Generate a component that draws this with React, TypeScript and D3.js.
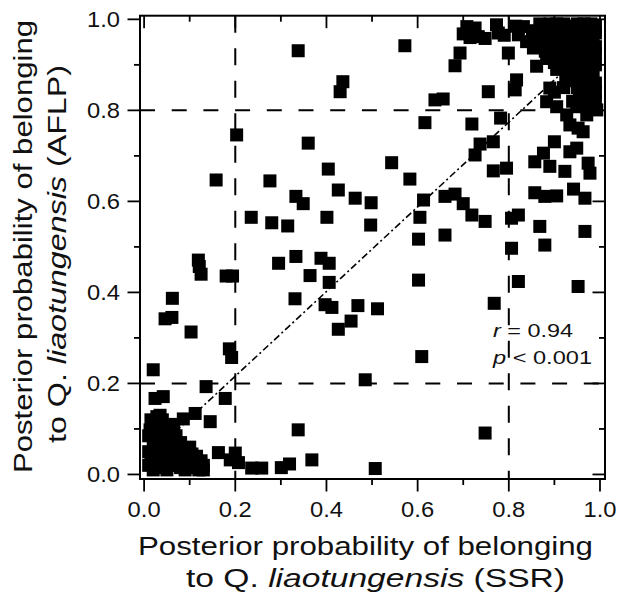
import * as d3 from "d3";
import { useEffect, useRef } from "react";

// posterior probabilities, [SSR, AFLP]
const lowCluster: [number, number][] = [
  [0.01, 0.02], [0.02, 0.01], [0.03, 0.03], [0.01, 0.05], [0.02, 0.07], [0.03, 0.1],
  [0.04, 0.06], [0.05, 0.03], [0.05, 0.01], [0.06, 0.05], [0.07, 0.02], [0.08, 0.04],
  [0.09, 0.01], [0.1, 0.03], [0.11, 0.02], [0.12, 0.01], [0.13, 0.02], [0.04, 0.12],
  [0.02, 0.11], [0.03, 0.04], [0.06, 0.08], [0.07, 0.06], [0.08, 0.07], [0.015, 0.035],
  [0.025, 0.055], [0.045, 0.09], [0.035, 0.015], [0.055, 0.065], [0.075, 0.045],
  [0.09, 0.05], [0.1, 0.06], [0.01, 0.085], [0.04, 0.02], [0.06, 0.02], [0.085, 0.02],
  [0.115, 0.04], [0.065, 0.11], [0.02, 0.04], [0.04, 0.04], [0.05, 0.05], [0.06, 0.035],
  [0.07, 0.04], [0.08, 0.015], [0.1, 0.015], [0.11, 0.035], [0.125, 0.03], [0.03, 0.08],
  [0.05, 0.1], [0.015, 0.12], [0.035, 0.13], [0.045, 0.075], [0.025, 0.09], [0.07, 0.085],
  [0.09, 0.03], [0.02, 0.025], [0.105, 0.045], [0.13, 0.01],
];

const leftPoints: [number, number][] = [
  [0.338, 0.931], [0.436, 0.863], [0.43, 0.841], [0.203, 0.746], [0.36, 0.728],
  [0.158, 0.647], [0.276, 0.645], [0.404, 0.671], [0.426, 0.625], [0.333, 0.611],
  [0.349, 0.595], [0.463, 0.607], [0.498, 0.597], [0.235, 0.565], [0.28, 0.553],
  [0.315, 0.546], [0.401, 0.565], [0.497, 0.548],
  [0.119, 0.471], [0.121, 0.457], [0.125, 0.44], [0.18, 0.436], [0.194, 0.436],
  [0.295, 0.464], [0.333, 0.479], [0.388, 0.475], [0.406, 0.464], [0.364, 0.437],
  [0.406, 0.422], [0.062, 0.387], [0.331, 0.386], [0.397, 0.373], [0.412, 0.367],
  [0.469, 0.371], [0.046, 0.342], [0.061, 0.345], [0.103, 0.313], [0.426, 0.319],
  [0.454, 0.337], [0.187, 0.276], [0.192, 0.257], [0.02, 0.23], [0.485, 0.208],
  [0.136, 0.193], [0.024, 0.167], [0.042, 0.171], [0.178, 0.167], [0.112, 0.134],
  [0.086, 0.122], [0.145, 0.116], [0.028, 0.127], [0.338, 0.098], [0.013, 0.098],
  [0.057, 0.094], [0.064, 0.058], [0.163, 0.048], [0.2, 0.047], [0.189, 0.032],
  [0.207, 0.026], [0.236, 0.014], [0.258, 0.014], [0.301, 0.015], [0.319, 0.023],
  [0.368, 0.032], [0.507, 0.013],
];

const rightPoints: [number, number][] = [
  [0.572, 0.942], [0.693, 0.926], [0.682, 0.898], [0.638, 0.823], [0.656, 0.825],
  [0.755, 0.841], [0.817, 0.867], [0.814, 0.845], [0.799, 0.926], [0.616, 0.773],
  [0.719, 0.77], [0.782, 0.783], [0.766, 0.731], [0.737, 0.726], [0.726, 0.702],
  [0.543, 0.685], [0.583, 0.649], [0.766, 0.667], [0.795, 0.673], [0.613, 0.603],
  [0.66, 0.611], [0.682, 0.616], [0.7, 0.595], [0.719, 0.57], [0.748, 0.556],
  [0.605, 0.565], [0.602, 0.517], [0.66, 0.526], [0.806, 0.563], [0.821, 0.57],
  [0.806, 0.497], [0.868, 0.545], [0.879, 0.504], [0.967, 0.534], [0.857, 0.619],
  [0.879, 0.611], [0.905, 0.612], [0.942, 0.627], [0.967, 0.607], [0.857, 0.687],
  [0.89, 0.677], [0.876, 0.706], [0.9, 0.731], [0.923, 0.666], [0.934, 0.709],
  [0.949, 0.717], [0.974, 0.684], [0.978, 0.662],
  [0.602, 0.427], [0.821, 0.424], [0.952, 0.413], [0.512, 0.364], [0.768, 0.376],
  [0.609, 0.259], [0.748, 0.091],
];

const highCluster: [number, number][] = [
  [0.89, 0.849], [0.883, 0.819], [0.905, 0.808], [0.927, 0.79], [0.934, 0.768],
  [0.952, 0.761], [0.971, 0.79], [0.978, 0.808], [0.949, 0.808], [0.982, 0.849],
  [0.934, 0.877], [0.942, 0.899], [0.861, 0.897], [0.883, 0.914], [0.905, 0.89],
  [0.963, 0.753], [0.993, 0.801],
  [0.708, 0.984], [0.726, 0.981], [0.7, 0.968], [0.733, 0.962], [0.748, 0.958],
  [0.773, 0.988], [0.777, 0.97], [0.821, 0.966], [0.832, 0.984], [0.839, 0.951],
  [0.854, 0.937], [0.852, 0.975], [0.868, 0.99], [0.872, 0.962],
  [0.89, 0.99], [0.92, 0.99], [0.95, 0.99], [0.98, 0.99], [0.99, 0.97], [0.9, 0.97],
  [0.93, 0.97], [0.96, 0.975], [0.88, 0.95], [0.91, 0.95], [0.94, 0.95], [0.97, 0.95],
  [0.99, 0.94], [0.89, 0.93], [0.92, 0.925], [0.95, 0.93], [0.98, 0.92], [0.9, 0.905],
  [0.93, 0.9], [0.96, 0.905], [0.99, 0.9], [0.96, 0.88], [0.97, 0.875], [0.99, 0.86],
  [0.95, 0.85], [0.97, 0.83], [0.99, 0.82], [0.94, 0.82], [0.965, 0.855],
  [0.905, 0.99], [0.935, 0.985], [0.965, 0.99], [0.99, 0.985], [0.915, 0.965],
  [0.945, 0.965], [0.975, 0.965], [0.895, 0.955], [0.925, 0.945], [0.955, 0.95],
  [0.985, 0.955], [0.905, 0.935], [0.935, 0.93], [0.965, 0.925], [0.99, 0.925],
  [0.915, 0.91], [0.945, 0.91], [0.975, 0.905], [0.95, 0.885], [0.985, 0.885],
  [0.975, 0.86], [0.955, 0.835], [0.985, 0.835], [0.96, 0.815], [0.99, 0.84],
  [0.875, 0.975], [0.86, 0.955], [0.88, 0.93], [0.815, 0.985], [0.79, 0.965],
  [0.715, 0.96], [0.925, 0.87], [0.945, 0.865], [0.92, 0.85], [0.9, 0.84],
];

const majorTicks = [0, 0.2, 0.4, 0.6, 0.8, 1.0];
const minorTicks = [0.1, 0.3, 0.5, 0.7, 0.9];
const tickLabels = ["0.0", "0.2", "0.4", "0.6", "0.8", "1.0"];
const guideLines = [0.2, 0.8];

// regression line
const fitSlope = 0.93;
const fitIntercept = 0.03;
const fitRange = [0.02, 0.93];

const FONT = "Arial, 'Liberation Sans', sans-serif";

export default function App() {
  const ref = useRef<SVGSVGElement>(null);

  useEffect(() => {
    const svg = d3.select(ref.current);
    svg.selectAll("*").remove();

    const left = 140, right = 605, top = 15.7, bottom = 479;
    const x = d3.scaleLinear().domain([-0.009, 1.011]).range([left, right]);
    const y = d3.scaleLinear().domain([-0.01, 1.008]).range([bottom, top]);

    // guide dashed lines
    const guides = svg.append("g").attr("stroke", "#000").attr("stroke-width", 2)
      .attr("fill", "none").attr("stroke-dasharray", "15,16.7");
    guideLines.forEach((v) => {
      guides.append("line").attr("x1", left).attr("x2", right).attr("y1", y(v)).attr("y2", y(v));
      guides.append("line").attr("x1", x(v)).attr("x2", x(v)).attr("y1", top).attr("y2", bottom)
        .attr("stroke-dasharray", "17,15.5");
    });

    // fit line
    svg.append("path")
      .attr("d", d3.line<number>().x((d) => x(d)).y((d) => y(fitSlope * d + fitIntercept))(fitRange))
      .attr("stroke", "#000").attr("stroke-width", 1.6).attr("fill", "none")
      .attr("stroke-dasharray", "7,3,2,3");

    // squares
    const size = 13;
    const all = [...lowCluster, ...leftPoints, ...rightPoints, ...highCluster];
    svg.append("g").selectAll("rect").data(all).join("rect")
      .attr("x", (d) => x(d[0]) - size / 2)
      .attr("y", (d) => y(d[1]) - size / 2)
      .attr("width", size).attr("height", size)
      .attr("fill", "#000");

    // frame
    svg.append("rect").attr("x", left).attr("y", top)
      .attr("width", right - left).attr("height", bottom - top)
      .attr("fill", "none").attr("stroke", "#000").attr("stroke-width", 2);

    // ticks: outward bottom/left, inward top/right
    const ticks = svg.append("g").attr("stroke", "#000").attr("stroke-width", 1.8);
    const drawTicks = (vals: number[], len: number) => {
      vals.forEach((v) => {
        ticks.append("line").attr("x1", x(v)).attr("x2", x(v)).attr("y1", bottom).attr("y2", bottom + len);
        ticks.append("line").attr("x1", x(v)).attr("x2", x(v)).attr("y1", top).attr("y2", top + len);
        ticks.append("line").attr("y1", y(v)).attr("y2", y(v)).attr("x1", left).attr("x2", left - len);
        ticks.append("line").attr("y1", y(v)).attr("y2", y(v)).attr("x1", right).attr("x2", right - len);
      });
    };
    drawTicks(majorTicks, 12.5);
    drawTicks(minorTicks, 6);

    const labels = svg.append("g").attr("font-family", FONT).attr("font-size", 22).attr("fill", "#111");
    majorTicks.forEach((v, i) => {
      labels.append("text").attr("x", x(v)).attr("y", 516.5).attr("text-anchor", "middle")
        .attr("textLength", 33).attr("lengthAdjust", "spacingAndGlyphs").text(tickLabels[i]);
      labels.append("text").attr("x", 120).attr("y", y(v) + 7.8).attr("text-anchor", "end")
        .attr("textLength", 33).attr("lengthAdjust", "spacingAndGlyphs").text(tickLabels[i]);
    });

    // axis titles
    const xt = svg.append("g").attr("font-family", FONT).attr("font-size", 25).attr("fill", "#111")
      .attr("transform", "translate(138,555)");
    xt.append("text").attr("textLength", 455).attr("lengthAdjust", "spacingAndGlyphs")
      .text("Posterior probability of belonging");
    const xt2 = xt.append("text").attr("x", 48).attr("y", 32).attr("textLength", 379).attr("lengthAdjust", "spacingAndGlyphs");
    xt2.append("tspan").text("to Q. ");
    xt2.append("tspan").attr("font-style", "italic").text("liaotungensis");
    xt2.append("tspan").text(" (SSR)");

    const yt = svg.append("g").attr("font-family", FONT).attr("font-size", 25).attr("fill", "#111")
      .attr("transform", "translate(32,473) rotate(-90)");
    yt.append("text").attr("textLength", 453).attr("lengthAdjust", "spacingAndGlyphs")
      .text("Posterior probability of belonging");
    const yt2 = yt.append("text").attr("x", 30).attr("y", 34).attr("textLength", 378).attr("lengthAdjust", "spacingAndGlyphs");
    yt2.append("tspan").text("to Q. ");
    yt2.append("tspan").attr("font-style", "italic").text("liaotungensis");
    yt2.append("tspan").text(" (AFLP)");

    // annotation
    const ann = svg.append("g").attr("font-family", FONT).attr("font-size", 19).attr("fill", "#111");
    const a1 = ann.append("text").attr("x", 493).attr("y", 336.7).attr("textLength", 80).attr("lengthAdjust", "spacingAndGlyphs");
    a1.append("tspan").attr("font-style", "italic").text("r");
    a1.append("tspan").text(" = 0.94");
    const a2 = ann.append("text").attr("x", 493).attr("y", 364.3).attr("textLength", 99).attr("lengthAdjust", "spacingAndGlyphs");
    a2.append("tspan").attr("font-style", "italic").text("p");
    a2.append("tspan").text(" < 0.001");
  }, []);

  return (
    <svg ref={ref} width={620} height={596}
      style={{ position: "absolute", left: 0, top: 0, background: "#fff" }} />
  );
}
